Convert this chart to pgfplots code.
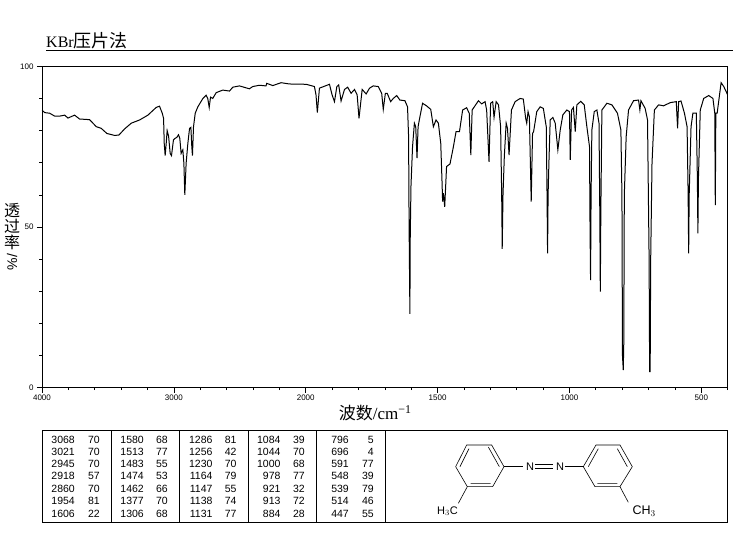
\documentclass[border=0pt]{standalone}
\usepackage{fontspec}
\usepackage{graphicx}
\usepackage{pgfplots}
\usepackage{pgfplotstable}
\pgfplotsset{compat=1.18}
\setmainfont{Liberation Sans}
\newfontfamily\cjk{Noto Sans CJK SC}
\newfontfamily\seriffam{Liberation Serif}

% wavenumber / transmittance
\pgfplotstableread{
wn T
4000 86.4
3980 85.6
3942 85.4
3904 84.5
3866 84.5
3828 84.8
3803 83.9
3753 84.8
3715 83.6
3639 83.4
3588 81.2
3551 80.7
3508 79.1
3450 78.5
3417 78.6
3374 80.5
3323 82.3
3260 83.3
3197 84.8
3134 87.2
3109 87.6
3088 85.4
3078 83.8
3073 76.0
3066 72.2
3058 76.0
3051 80.0
3040 78.3
3028 72.9
3018 72.2
3003 77.1
2990 77.6
2977 77.9
2965 78.7
2955 77.6
2945 72.9
2932 74.0
2924 69.8
2917 60.0
2907 69.8
2894 76.0
2881 80.7
2871 81.0
2864 75.0
2859 72.2
2851 81.2
2838 85.4
2818 87.4
2780 90.0
2755 91.0
2743 90.0
2732 87.2
2722 90.4
2705 90.0
2679 91.8
2629 92.6
2578 92.3
2553 93.5
2503 93.9
2427 93.0
2402 93.7
2351 94.1
2301 93.9
2296 94.7
2250 94.0
2187 94.9
2124 94.5
1998 94.4
1967 93.7
1961 91.1
1956 85.6
1948 93.2
1910 94.4
1900 91.1
1891 89.0
1882 93.7
1875 94.2
1866 89.2
1853 92.8
1841 93.5
1828 91.6
1815 92.8
1805 91.1
1798 83.8
1786 92.8
1771 91.4
1758 93.2
1744 93.9
1725 93.7
1712 91.6
1706 86.6
1698 91.6
1691 91.6
1678 89.0
1668 90.0
1655 90.9
1643 89.5
1624 89.3
1614 87.4
1610 78.1
1608 50.0
1605 23.0
1604 45.0
1601 62.6
1595 75.0
1588 82.3
1583 81.2
1578 71.4
1574 81.2
1567 84.3
1557 88.5
1542 87.7
1526 86.6
1516 81.2
1506 83.3
1497 82.3
1488 76.0
1483 63.6
1481 57.9
1478 60.5
1473 56.3
1466 68.8
1453 69.6
1440 75.0
1430 79.7
1417 79.7
1405 86.4
1390 87.1
1380 85.4
1374 72.4
1369 86.4
1345 89.3
1333 88.3
1320 89.0
1314 86.4
1305 70.3
1299 88.5
1291 89.0
1286 84.1
1278 89.0
1269 88.0
1261 81.2
1257 60.0
1255 43.2
1252 60.0
1247 71.9
1240 82.3
1235 80.7
1229 72.4
1220 86.4
1206 89.0
1187 90.0
1175 89.8
1166 83.8
1162 82.3
1157 85.9
1152 84.3
1145 57.9
1140 79.1
1136 79.7
1133 81.2
1124 85.9
1111 87.4
1099 86.9
1088 81.2
1085 60.0
1083 41.8
1081 60.0
1078 69.8
1073 83.3
1063 84.1
1054 82.3
1044 74.0
1035 80.2
1025 84.9
1010 86.4
1000 85.9
997 70.9
992 86.4
985 87.2
978 79.7
972 88.0
957 89.1
944 88.0
934 81.2
924 75.0
922 50.0
920 33.5
918 60.0
915 80.2
906 85.9
896 86.4
888 82.3
885 55.0
883 29.9
881 55.0
877 86.4
858 88.5
839 88.0
818 85.4
805 80.2
801 60.0
799 10.0
796 5.5
794 14.0
792 60.0
785 78.1
776 86.4
757 89.3
738 89.5
733 86.4
729 89.3
713 86.9
704 83.3
698 40.0
696 5.0
694 5.0
692 40.0
687 69.8
678 86.4
662 88.0
643 87.7
618 88.7
595 89.0
590 80.7
586 89.0
577 89.2
564 85.4
554 81.2
550 60.0
548 41.8
546 60.0
539 81.2
532 85.4
519 85.4
515 65.0
513 48.0
511 65.0
504 86.4
491 90.0
472 90.9
456 90.0
449 85.4
447 56.8
445 85.4
440 85.4
425 94.9
415 93.7
400 91.1
}\spectrum

\begin{document}
\begin{tikzpicture}[x=1pt,y=1pt]
\useasboundingbox (0,0) rectangle (737,539);

\node[anchor=base west,inner sep=0pt,font=\fontsize{18}{18}\selectfont] at (46,491)
  {{\seriffam\fontsize{16}{16}\selectfont KBr}{\cjk 压片法}};
\draw[line width=0.8pt] (46,489) -- (733,489);

\begin{axis}[
    at={(42pt,151.3pt)},
    anchor=south west,
    scale only axis,
    width=685.7pt,
    height=321.4pt,
    % 4000-2000 runs at half the scale of 2000-400
    x coord trafo/.code={\pgfmathparse{#1>=2000 ? (4000-#1)/2 : 3000-#1}},
    xmin=4000, xmax=400,
    ymin=0, ymax=100,
    xtick={4000,3000,2000,1500,1000,500},
    xticklabels={4000,3000,2000,1500,1000,500},
    minor xtick={3800,3600,3400,3200,2800,2600,2400,2200,1900,1800,1700,1600,1400,1300,1200,1100,900,800,700,600,400},
    ytick={0,50,100},
    minor ytick={10,20,30,40,60,70,80,90},
    xtick pos=bottom,
    ytick pos=left,
    tick align=outside,
    major tick length=5pt,
    minor tick length=2.5pt,
    tick style={black,line width=0.7pt},
    axis line style={line width=0.8pt},
    /pgf/number format/assume math mode=true,
    ticklabel style={font=\fontsize{8}{8}\selectfont},
    xticklabel style={yshift=1pt},
    xlabel={{\cjk 波数}{\seriffam /cm\textsuperscript{−1}}},
    xlabel style={font=\fontsize{17}{17}\selectfont,at={(axis description cs:0.486,-0.045)},anchor=north},
    ylabel={\parbox[c]{18pt}{\centering\fontsize{16}{16}\selectfont\cjk 透\\过\\率\\[3pt]\rotatebox{90}{\rmfamily\fontsize{14}{14}\selectfont\%/}}},
    ylabel style={rotate=-90,at={(axis description cs:-0.0435,0.47)},anchor=center},
]
\addplot[black,line width=1pt,sharp plot,mark=none] table[x=wn,y=T] {\spectrum};
\end{axis}

% peak table
\draw[line width=0.8pt] (42.3,17) rectangle (727.3,109);
\foreach \vx in {111.3,179.3,248.3,316.7,385.3}
  \draw[line width=0.8pt] (\vx,17) -- (\vx,109);
\def\rowa{99.3}\def\rowb{87.3}\def\rowc{75}\def\rowd{63}\def\rowe{50.3}\def\rowf{38}\def\rowg{25.3}
\begin{scope}[every node/.style={anchor=east,inner sep=0pt,font=\fontsize{10.5}{10.5}\selectfont}]
\node at (75,\rowa) {3068};\node at (100,\rowa) {70};
\node at (75,\rowb) {3021};\node at (100,\rowb) {70};
\node at (75,\rowc) {2945};\node at (100,\rowc) {70};
\node at (75,\rowd) {2918};\node at (100,\rowd) {57};
\node at (75,\rowe) {2860};\node at (100,\rowe) {70};
\node at (75,\rowf) {1954};\node at (100,\rowf) {81};
\node at (75,\rowg) {1606};\node at (100,\rowg) {22};
\node at (144,\rowa) {1580};\node at (168,\rowa) {68};
\node at (144,\rowb) {1513};\node at (168,\rowb) {77};
\node at (144,\rowc) {1483};\node at (168,\rowc) {55};
\node at (144,\rowd) {1474};\node at (168,\rowd) {53};
\node at (144,\rowe) {1462};\node at (168,\rowe) {66};
\node at (144,\rowf) {1377};\node at (168,\rowf) {70};
\node at (144,\rowg) {1306};\node at (168,\rowg) {68};
\node at (212.7,\rowa) {1286};\node at (236.7,\rowa) {81};
\node at (212.7,\rowb) {1256};\node at (236.7,\rowb) {42};
\node at (212.7,\rowc) {1230};\node at (236.7,\rowc) {70};
\node at (212.7,\rowd) {1164};\node at (236.7,\rowd) {79};
\node at (212.7,\rowe) {1147};\node at (236.7,\rowe) {55};
\node at (212.7,\rowf) {1138};\node at (236.7,\rowf) {74};
\node at (212.7,\rowg) {1131};\node at (236.7,\rowg) {77};
\node at (280.7,\rowa) {1084};\node at (305,\rowa) {39};
\node at (280.7,\rowb) {1044};\node at (305,\rowb) {70};
\node at (280.7,\rowc) {1000};\node at (305,\rowc) {68};
\node at (280.7,\rowd) {978};\node at (305,\rowd) {77};
\node at (280.7,\rowe) {921};\node at (305,\rowe) {32};
\node at (280.7,\rowf) {913};\node at (305,\rowf) {72};
\node at (280.7,\rowg) {884};\node at (305,\rowg) {28};
\node at (349,\rowa) {796};\node at (374,\rowa) {5};
\node at (349,\rowb) {696};\node at (374,\rowb) {4};
\node at (349,\rowc) {591};\node at (374,\rowc) {77};
\node at (349,\rowd) {548};\node at (374,\rowd) {39};
\node at (349,\rowe) {539};\node at (374,\rowe) {79};
\node at (349,\rowf) {514};\node at (374,\rowf) {46};
\node at (349,\rowg) {447};\node at (374,\rowg) {55};
\end{scope}

% structure, in crop coordinates (1/3 px)
\begin{scope}[shift={(380,114)},x=0.3333pt,y=-0.3333pt,line width=0.6pt]
\draw (260,60)--(335,60)--(372,125)--(338,185)--(262,185)--(227,125)--cycle;
\draw (325,66)--(358,125) (240,125)--(267,71) (272,175)--(332,175);
\draw (372,125)--(428,125) (465,119)--(518,119) (465,130)--(518,130) (555,125)--(610,125);
\draw (648,60)--(720,60)--(757,125)--(720,185)--(645,185)--(610,125)--cycle;
\draw (712,71)--(742,125) (625,125)--(655,71) (652,175)--(712,175);
\draw (262,185)--(235,235) (720,185)--(745,232);
\node[inner sep=0pt,font=\fontsize{11}{11}\selectfont] at (450,125) {N};
\node[inner sep=0pt,font=\fontsize{11}{11}\selectfont] at (540,125) {N};
\node[inner sep=0pt,anchor=east,font=\fontsize{11}{11}\selectfont] at (234,258) {H$_3$C};
\node[inner sep=0pt,anchor=west,font=\fontsize{12.5}{12.5}\selectfont] at (757,258) {CH$_3$};
\end{scope}
\end{tikzpicture}
\end{document}
